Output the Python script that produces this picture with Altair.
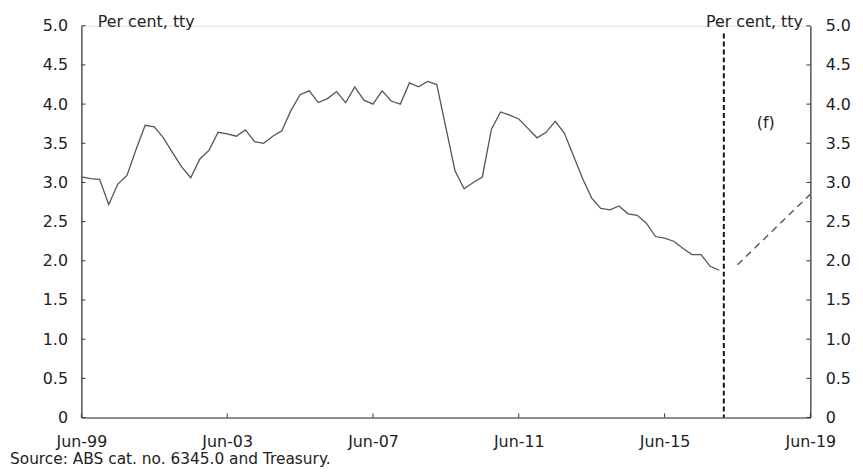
import altair as alt
import pandas as pd

# Quarter labels Jun-99 .. Jun-19
months = ["Jun", "Sep", "Dec", "Mar"]
quarters = []
yr = 1999
for i in range(81):
    m = months[i % 4]
    if m == "Mar":
        y = yr + 1 + (i // 4)
    else:
        y = yr + (i // 4)
    quarters.append(f"{m}-{y % 100:02d}")

# Wage price index growth, per cent through the year (actuals Jun-99 .. Dec-16)
actual_values = [
    3.07, 3.05, 3.04, 2.72, 2.98, 3.09, 3.42, 3.73, 3.71, 3.57,
    3.38, 3.20, 3.06, 3.30, 3.41, 3.64, 3.62, 3.59, 3.67, 3.52,
    3.50, 3.59, 3.66, 3.92, 4.12, 4.17, 4.02, 4.07, 4.16, 4.02,
    4.22, 4.05, 4.00, 4.17, 4.04, 4.00, 4.27, 4.22, 4.29, 4.25,
    3.70, 3.15, 2.92, 3.00, 3.07, 3.68, 3.90, 3.86, 3.81, 3.69,
    3.57, 3.64, 3.78, 3.63, 3.34, 3.05, 2.80, 2.67, 2.65, 2.70,
    2.60, 2.58, 2.48, 2.31, 2.29, 2.25, 2.16, 2.08, 2.08, 1.93,
    1.88,
]
forecast_labels = ["Jun-17", "Jun-19"]
forecast_values = [1.95, 2.85]

tick_labels = ["Jun-99", "Jun-03", "Jun-07", "Jun-11", "Jun-15", "Jun-19"]
y_ticks = [0, 0.5, 1.0, 1.5, 2.0, 2.5, 3.0, 3.5, 4.0, 4.5, 5.0]

actual_df = pd.DataFrame({
    "q": list(range(len(actual_values))),
    "label": quarters[:len(actual_values)],
    "value": actual_values,
})
forecast_df = pd.DataFrame({
    "q": [quarters.index(l) for l in forecast_labels],
    "label": forecast_labels,
    "value": forecast_values,
})
tick_q = [quarters.index(l) for l in tick_labels]
step = tick_q[1] - tick_q[0]
label_list = ",".join(f"'{l}'" for l in tick_labels)
x_label_expr = f"[{label_list}][round(datum.value / {step})]"

FONT = "DejaVu Sans"
FS = 16
W, H = 735, 395

xscale = alt.Scale(domain=[0, 80], nice=False, zero=False)
yscale = alt.Scale(domain=[0, 5], nice=False)

x_axis = alt.Axis(
    values=tick_q, labelExpr=x_label_expr, labelFlush=False, title=None,
    ticks=False, tickSize=0,
    labelPadding=16, grid=False, domainColor="#333", domainWidth=1.2,
    labelFont=FONT, labelFontSize=FS, labelColor="#222",
)
y_label_expr = "datum.value == 0 ? '0' : format(datum.value, '.1f')"
left_axis = alt.Axis(
    orient="left", values=y_ticks, labelExpr=y_label_expr, ticks=False, tickSize=0,
    labelPadding=14, grid=False, domainColor="#333", domainWidth=1.2,
    labelFont=FONT, labelFontSize=FS, labelColor="#222",
    title="Per cent, tty", titleAngle=0, titleAlign="left", titleBaseline="alphabetic",
    titleX=16, titleY=1, titleFont=FONT, titleFontSize=FS, titleFontWeight="normal",
    titleColor="#222",
)
right_axis = alt.Axis(
    orient="right", values=y_ticks, labelExpr=y_label_expr, ticks=False, tickSize=0,
    labelPadding=15, grid=False, domainColor="#333", domainWidth=1.2,
    labelFont=FONT, labelFontSize=FS, labelColor="#222",
    title="Per cent, tty", titleAngle=0, titleAlign="right", titleBaseline="alphabetic",
    titleX=-8, titleY=1, titleFont=FONT, titleFontSize=FS, titleFontWeight="normal",
    titleColor="#222",
)

actual = alt.Chart(actual_df).mark_line(color="#555", strokeWidth=1.3).encode(
    x=alt.X("q:Q", scale=xscale, axis=x_axis),
    y=alt.Y("value:Q", scale=yscale, axis=left_axis),
)

forecast = alt.Chart(forecast_df).mark_line(
    color="#555", strokeWidth=1.4, strokeDash=[7, 5]
).encode(
    x=alt.X("q:Q", scale=xscale),
    y=alt.Y("value:Q", scale=yscale, axis=None),
)

divider_df = pd.DataFrame({"q": [70.5], "top": [4.9], "bottom": [0.0]})
divider = alt.Chart(divider_df).mark_rule(
    color="#111", strokeWidth=2, strokeDash=[5, 3]
).encode(
    x=alt.X("q:Q", scale=xscale),
    y=alt.Y("top:Q", scale=yscale, axis=right_axis),
    y2="bottom:Q",
)

f_df = pd.DataFrame({"q": [75.1], "value": [3.76], "text": ["(f)"]})
f_label = alt.Chart(f_df).mark_text(
    font=FONT, fontSize=FS, color="#222", align="center", baseline="middle"
).encode(
    x=alt.X("q:Q", scale=xscale),
    y=alt.Y("value:Q", scale=yscale, axis=None),
    text="text:N",
)

ytick_df = pd.DataFrame({"v": y_ticks})
left_ticks = alt.Chart(ytick_df).mark_rule(color="#333", strokeWidth=1).encode(
    x=alt.value(0), x2=alt.value(4),
    y=alt.Y("v:Q", scale=yscale, axis=None),
)
right_ticks = alt.Chart(ytick_df).mark_rule(color="#333", strokeWidth=1).encode(
    x=alt.value(W - 4), x2=alt.value(W),
    y=alt.Y("v:Q", scale=yscale, axis=None),
)
xtick_df = pd.DataFrame({"q": tick_q, "label": tick_labels})
bottom_ticks = alt.Chart(xtick_df).mark_rule(color="#333", strokeWidth=1).encode(
    x=alt.X("q:Q", scale=xscale),
    y=alt.value(H), y2=alt.value(H - 4),
)

source_df = pd.DataFrame({"text": ["Source: ABS cat. no. 6345.0 and Treasury."]})
source = alt.Chart(source_df).mark_text(
    font=FONT, fontSize=15.5, color="#222", align="left", baseline="alphabetic"
).encode(
    x=alt.value(-72), y=alt.value(H + 47), text="text:N",
)

chart = alt.layer(
    actual, forecast, divider, f_label, left_ticks, right_ticks, bottom_ticks, source
).resolve_axis(y="independent").properties(
    width=W, height=H,
    autosize=alt.AutoSizeParams(type="none"),
    padding={"left": 74, "top": 16, "right": 45, "bottom": 52},
).configure_view(stroke=None).configure(background="white")

chart.save("out.html", embed_options={"renderer": "svg", "actions": False})
